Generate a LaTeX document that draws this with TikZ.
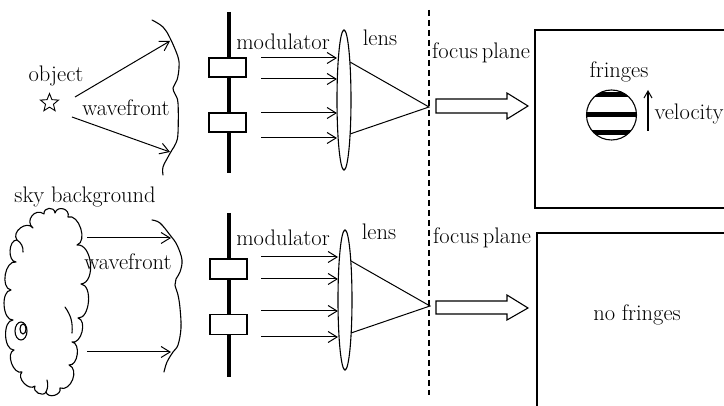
\documentclass[tikz,border=0pt]{standalone}
\usetikzlibrary{arrows.meta,shapes.geometric}
\begin{document}
\begin{tikzpicture}[x=1pt,y=-1pt,line width=1pt,
  lbl/.style={font=\fontsize{22.5}{25}\selectfont,inner sep=0pt},
  ray/.style={-{Straight Barb[length=9pt,width=11pt,line width=1pt]}},
  modbar/.style={line width=4pt},
  modrect/.style={draw,fill=white,line width=1.1pt,minimum width=37pt,minimum height=19pt,inner sep=0pt},
  lensshape/.style={draw,ellipse,line width=1.1pt,minimum width=14pt,minimum height=140pt,inner sep=0pt},
  wave/.style={line width=1.1pt,line cap=round},
  focal/.style={line width=1.2pt,dashed,dash pattern=on 6pt off 4pt},
  bigarrow/.style={draw,fill=white,line width=1.1pt,line join=miter},
  screen/.style={line width=1.3pt},
  puff/.style={bend left=90,looseness=#1},
  puff/.default=1.2]
\clip (0,0) rectangle (724,406);

% ---------------- top row: point source ----------------
\node[lbl] (objlbl) at (56,76) {object};
\node[draw,star,star points=5,star point ratio=2.3,minimum size=19pt,inner sep=0pt,line width=0.9pt] (star) at (49.5,103) {};
\node[lbl] (waveA) at (126,108) {wavefront};
\draw[wave] plot[smooth,tension=0.6] coordinates {(152,20) (163,27) (170,38) (178,57) (179,68) (177,80) (173,88) (175,94) (178,103) (178,133) (176,143) (172,150) (168,157) (163,167) (163,175)};
\coordinate (wA1) at (170,41);
\coordinate (wA2) at (170,152);
\draw[ray] (75,97) -- (wA1);
\draw[ray] (72,117) -- (wA2);

% modulator
\draw[modbar] (229,12) -- (229,173);
\node[modrect] (mA1) at (227.5,67.5) {};
\node[modrect] (mA2) at (227.5,122.5) {};
\node[lbl] (modA) at (283,42) {modulator};

% lens and focusing
\node[lensshape] (lensA) at (344,100) {};
\node[lbl] (lensAlbl) at (380,38) {lens};
\foreach \y in {58,79,113,138} \draw[ray] (261,\y) -- (337,\y);
\coordinate (fA) at (429,107);
\draw (350,62) -- (fA) -- (350,134);

% focal plane and detector
\draw[focal] (429,10) -- (429,395);
\node[lbl] (fpA) at (481,53) {focus\kern4pt plane};
\draw[bigarrow] (436,99) -- (507,99) -- (507,93) -- (528,106) -- (507,119) -- (507,113) -- (436,113) -- cycle;
\draw[screen] (760,30) -- (535,30) -- (535,208) -- (760,208);
\node[lbl] (frlbl) at (619,72) {fringes};
\begin{scope}
  \clip (611.5,115) circle (25);
  \fill (580,92) rectangle (650,97.5);
  \fill (580,112) rectangle (650,117.5);
  \fill (580,130) rectangle (650,135.5);
\end{scope}
\node[draw,circle,minimum size=50pt,inner sep=0pt,line width=1.1pt] (fringe) at (611.5,115) {};
\draw[-{Straight Barb[length=7pt,width=8pt,line width=1pt]},line width=1.1pt] (648,131) -- (648,90);
\node[lbl,anchor=west] (vel) at (654,114) {velocity};

% ---------------- bottom row: extended sky background ----------------
\node[lbl] (skylbl) at (85,197) {sky background};
\draw[wave,line join=round] (17,240) to[puff=1.3] (33,228) to[puff=1.6] (44,214) to[puff=1.6] (55,213)
  to[puff=1.6] (68,217) to[puff=1] (77,245) to[puff=1] (81,284) to[puff=0.9] (78,318)
  to[puff=1] (72,342) to[puff=1] (69,365) to[puff=1.2] (60,388) to[puff=1.3] (46,392)
  to[puff=1.3] (35,386) to[puff=1.1] (22,372) to[puff=1] (14,350) to[puff=0.9] (13,320)
  to[puff=0.9] (11,290) to[puff=1] (16,262) to[puff=1] (17,240);
\draw[wave] (65,307) to[bend left=20] (72,333);
\draw[wave] (17,240) to[bend left=30] (23,252);
\draw[wave] (46,392) to[bend right=20] (47,380);
% small curl on the cloud's edge
\draw[wave] (21,331) ellipse (6 and 9);
\draw[wave] (23,329) ellipse (3 and 5);
\node[lbl] (waveB) at (128,262) {wavefront};
\draw[wave] plot[smooth,tension=0.6] coordinates {(152,220) (160,223) (170,235) (177,245) (182,260) (180,272) (176,279) (175,285) (178,295) (180,308) (181,328) (178,345) (173,352) (167,362) (164,372)};
\coordinate (wB1) at (171,238);
\coordinate (wB2) at (171,352);
\draw[ray] (87,238) -- (wB1);
\draw[ray] (87,352) -- (wB2);

% modulator
\draw[modbar] (229,213) -- (229,377);
\node[modrect,minimum height=20pt] (mB1) at (228.5,269) {};
\node[modrect,minimum height=20pt] (mB2) at (228.5,324.5) {};
\node[lbl] (modB) at (283,238) {modulator};

% lens and focusing
\node[lensshape] (lensB) at (345,300) {};
\node[lbl] (lensBlbl) at (379,232) {lens};
\foreach \y in {257,279,311,337} \draw[ray] (261,\y) -- (338,\y);
\coordinate (fB) at (430,306);
\draw (351,261) -- (fB) -- (351,333);

% detector
\node[lbl] (fpB) at (482,238) {focus\kern4pt plane};
\draw[bigarrow] (436,301) -- (507,301) -- (507,295) -- (528,308) -- (507,320) -- (507,314) -- (436,314) -- cycle;
\draw[screen] (760,233) -- (537,233) -- (537,420);
\node[lbl] (nofr) at (637,315) {no fringes};
\end{tikzpicture}
\end{document}
